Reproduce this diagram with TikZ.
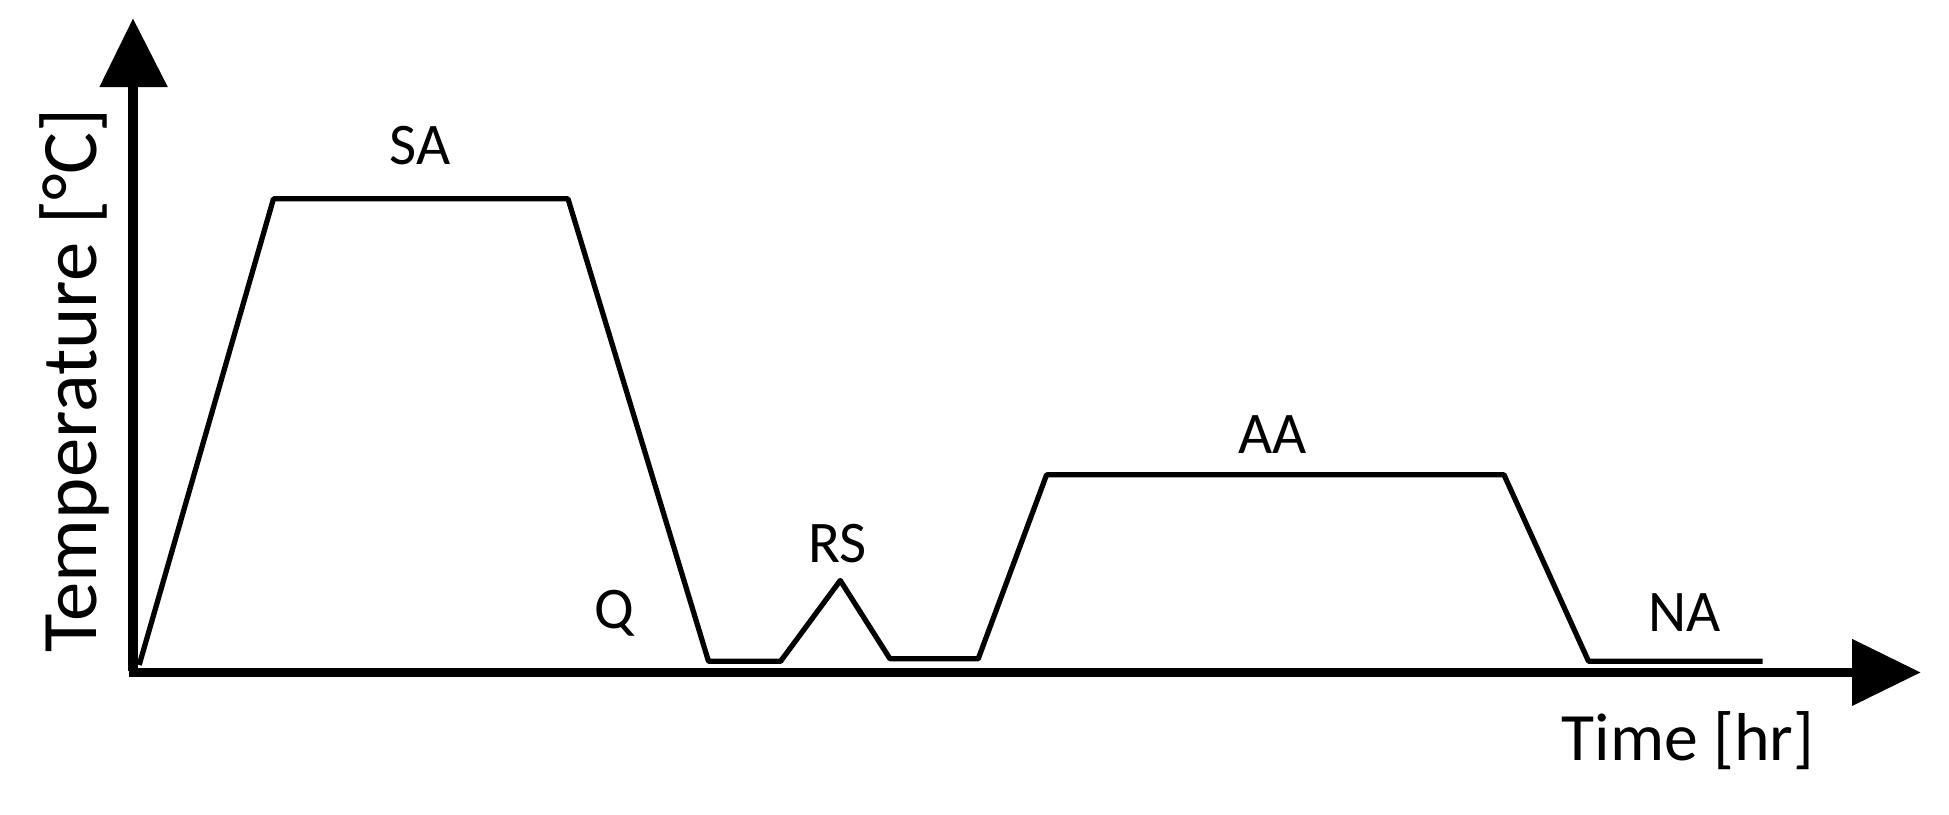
\documentclass[tikz,border=0pt]{standalone}
\usepackage{fontspec}
\setmainfont{Carlito}
\begin{document}
\begin{tikzpicture}[x=0.01cm,y=-0.01cm,
  curve/.style={line width=1.2pt,line join=round},
  axis/.style={line width=2.2pt},
  lab/.style={font=\fontsize{13.5}{15}\selectfont,inner sep=0pt}]
\useasboundingbox (0,0) rectangle (1568,655);
\coordinate (o) at (107,540);
\coordinate (ytip) at (107,15);
\coordinate (xtip) at (1545,541);
\draw[axis] (o) -- (107,68);
\fill (ytip) -- (80,70) -- (135,70) -- cycle;
\draw[axis] (104,541) -- (1492,541);
\fill (xtip) -- (1490,514) -- (1490,568) -- cycle;
\draw[curve] (112,535) -- (220,160) -- (457,160) -- (570,532) -- (628,532) -- (676,467) -- (716,530) -- (787,530) -- (842,382) -- (1210,382) -- (1278,532) -- (1418,532);
\node[lab] (sa) at (338,117) {SA};
\node[lab] (q) at (494,493) {Q};
\node[lab] (rs) at (674,437) {RS};
\node[lab] (aa) at (1024,350) {AA};
\node[lab] (na) at (1355,493) {NA};
\node[lab,font=\fontsize{15.5}{17}\selectfont] (t) at (1358,596) {Time [hr]};
\node[lab,font=\fontsize{18}{20}\selectfont,rotate=90] (temp) at (60,306) {Temperature [°C]};
\end{tikzpicture}
\end{document}
